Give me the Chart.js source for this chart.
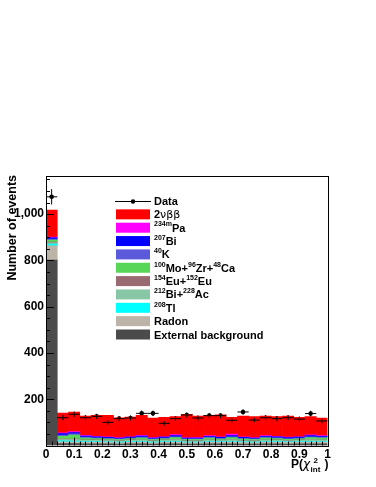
<!DOCTYPE html>
<html>
<head>
<meta charset="utf-8">
<script src="https://cdn.jsdelivr.net/npm/chart.js@4/dist/chart.umd.min.js"></script>
<style>
  html, body { margin: 0; padding: 0; background: #fff; }
  #box { width: 376px; height: 487px; }
</style>
</head>
<body>
<div id="box"><canvas id="c" width="376" height="487"></canvas></div>
<script>
// bin centres of P(chi2_int), 25 bins of width 0.04
const binCenters = [0.02, 0.06, 0.10, 0.14, 0.18, 0.22, 0.26, 0.30, 0.34, 0.38, 0.42, 0.46, 0.50,
  0.54, 0.58, 0.62, 0.66, 0.70, 0.74, 0.78, 0.82, 0.86, 0.90, 0.94, 0.98];
const binWidth = 0.04;

// data points and their errors
const dataCounts = [1075, 120, 135, 120, 126, 100, 116, 119, 139, 139, 96, 116, 132,
  119, 129, 129, 109, 145, 110, 120, 116, 120, 114, 138, 106];
const dataErrors = [33, 11, 12, 11, 11, 10, 11, 11, 12, 12, 10, 11, 11,
  11, 11, 11, 10, 12, 10, 11, 11, 11, 11, 12, 10];

// stacked MC components (bottom to top)
const externalBg = [802, 8, 8, 7, 7, 7, 6, 7, 7, 6, 7, 7, 6, 6, 7, 7, 7, 6, 6, 7, 7, 6, 7, 7, 7];
const radon      = [61, 8, 7, 7, 7, 6, 6, 7, 8, 6, 7, 8, 6, 6, 8, 7, 8, 7, 6, 8, 7, 7, 7, 8, 8];
const tl208      = [8, 4, 4, 3, 3, 3, 3, 3, 3, 3, 3, 3, 3, 3, 3, 3, 3, 3, 3, 3, 3, 3, 3, 3, 3];
const biAc       = [5, 6, 7, 5, 5, 5, 4, 5, 5, 4, 5, 6, 4, 4, 5, 4, 6, 4, 4, 5, 5, 4, 5, 6, 5];
const eu         = [3, 2, 2, 2, 2, 2, 2, 2, 2, 2, 2, 2, 2, 2, 2, 2, 2, 2, 2, 2, 2, 2, 2, 2, 2];
const moZrCa     = [9, 12, 17, 8, 6, 5, 5, 5, 7, 5, 5, 8, 5, 5, 7, 5, 8, 6, 5, 7, 6, 5, 5, 8, 7];
const k40        = [4, 5, 5, 4, 3, 3, 3, 3, 4, 3, 3, 4, 3, 3, 4, 3, 4, 3, 3, 4, 3, 3, 3, 4, 4];
const bi207      = [6, 6, 6, 5, 4, 4, 3, 4, 5, 3, 4, 5, 3, 3, 4, 4, 5, 4, 3, 4, 4, 4, 4, 5, 4];
const pa234m     = [3, 4, 4, 3, 3, 2, 2, 2, 3, 2, 2, 4, 2, 2, 3, 2, 6, 2, 2, 3, 3, 2, 2, 3, 3];
const twoNuBB    = [117, 85, 85, 83, 90, 93, 86, 85, 86, 84, 84, 78, 101,
  93, 87, 96, 73, 90, 91, 84, 85, 91, 84, 79, 76];

// axis ticks
const xTicks = [0, 0.1, 0.2, 0.3, 0.4, 0.5, 0.6, 0.7, 0.8, 0.9, 1];
const yTicks = [200, 400, 600, 800, 1000];
const yMax = 1165;

// legend labels: ^{..} = superscript, ~{..} = thin symbol font
const components = [
  { label: 'External background', color: '#4b4b4b', values: externalBg },
  { label: 'Radon', color: '#bdb4a9', values: radon },
  { label: '^{208}Tl', color: '#00ffff', values: tl208 },
  { label: '^{212}Bi+^{228}Ac', color: '#88c7a6', values: biAc },
  { label: '^{154}Eu+^{152}Eu', color: '#996a72', values: eu },
  { label: '^{100}Mo+^{96}Zr+^{48}Ca', color: '#57d657', values: moZrCa },
  { label: '^{40}K', color: '#5a5adb', values: k40 },
  { label: '^{207}Bi', color: '#0000ff', values: bi207 },
  { label: '^{234m}Pa', color: '#ff00ff', values: pa234m },
  { label: '2~{νββ}', color: '#ff0000', values: twoNuBB }
];

const FONT = '"Liberation Sans", Arial, Helvetica, sans-serif';

/**
 * Draws a label with simple superscripts, returns the end x.
 */
function drawRich(ctx, text, x, y, size) {
  let parts = text.split(/(\^\{[^}]*\}|~\{[^}]*\})/).filter(p => p.length);
  parts.forEach(p => {
    let t = p, dy = 0, font = `bold ${size}px ${FONT}`;
    if (p.startsWith('^{')) {
      t = p.slice(2, -1); dy = -size * 0.38; font = `bold ${Math.round(size * 0.64)}px ${FONT}`;
    } else if (p.startsWith('~{')) {
      t = p.slice(2, -1); font = `${size}px "DejaVu Sans", ${FONT}`;
    }
    ctx.font = font;
    ctx.fillText(t, x, y + dy);
    x += ctx.measureText(t).width;
  });
  return x;
}

const errorBars = {
  id: 'errorBars',
  afterDatasetsDraw(chart) {
    let { ctx, scales: { x, y } } = chart;
    let idx = chart.data.datasets.length - 1;
    ctx.save();
    ctx.strokeStyle = '#000';
    ctx.lineWidth = 1;
    chart.getDatasetMeta(idx).data.forEach((pt, i) => {
      ctx.beginPath();
      ctx.moveTo(x.getPixelForValue(binCenters[i] - binWidth / 2), pt.y);
      ctx.lineTo(x.getPixelForValue(binCenters[i] + binWidth / 2), pt.y);
      ctx.moveTo(pt.x, y.getPixelForValue(dataCounts[i] - dataErrors[i]));
      ctx.lineTo(pt.x, y.getPixelForValue(dataCounts[i] + dataErrors[i]));
      ctx.stroke();
    });
    ctx.restore();
  }
};

const rootFrame = {
  id: 'rootFrame',
  afterDraw(chart) {
    let { ctx, chartArea: a, scales: { x, y } } = chart;
    ctx.save();
    ctx.strokeStyle = '#000';
    ctx.lineWidth = 1;
    ctx.beginPath();
    // inward ticks on the y axis
    for (let v = 50; v < yMax; v += 50) {
      let py = Math.round(y.getPixelForValue(v)) + 0.5;
      ctx.moveTo(a.left, py);
      ctx.lineTo(a.left + (v % 200 === 0 ? 8 : 4), py);
    }
    // inward ticks on the x axis
    for (let k = 1; k < 50; k++) {
      let px = Math.round(x.getPixelForValue(k / 50)) + 0.5;
      ctx.moveTo(px, a.bottom);
      ctx.lineTo(px, a.bottom - (k % 5 === 0 ? 8 : 4));
    }
    ctx.stroke();
    ctx.strokeRect(Math.round(a.left) + 0.5, Math.round(a.top) + 0.5,
      Math.round(a.right - a.left), Math.round(a.bottom - a.top));

    // axis titles
    ctx.fillStyle = '#000';
    ctx.save();
    ctx.translate(16, a.top - 1);
    ctx.rotate(-Math.PI / 2);
    ctx.textAlign = 'right';
    ctx.textBaseline = 'alphabetic';
    ctx.font = `bold 12.5px ${FONT}`;
    ctx.fillText('Number of events', 0, 0);
    ctx.restore();

    ctx.textBaseline = 'alphabetic';
    ctx.textAlign = 'left';
    let bx = 291, by = 468;
    ctx.font = `bold 12px ${FONT}`;
    ctx.fillText('P(', bx, by);
    bx += ctx.measureText('P(').width;
    ctx.font = `italic 12px "DejaVu Sans", ${FONT}`;
    ctx.fillText('χ', bx, by);
    bx += ctx.measureText('χ').width + 0.5;
    ctx.font = `bold 8px ${FONT}`;
    ctx.fillText('2', bx + 3, by - 5);
    ctx.fillText('int', bx, by + 4);
    bx += ctx.measureText('int').width + 4;
    ctx.font = `bold 12px ${FONT}`;
    ctx.fillText(')', bx, by);

    // legend
    let lx = 116, ly = 201, pitch = 13.35;
    ctx.textBaseline = 'middle';
    ctx.beginPath();
    ctx.moveTo(lx - 1, ly + 0.5);
    ctx.lineTo(lx + 35, ly + 0.5);
    ctx.stroke();
    ctx.beginPath();
    ctx.arc(lx + 17, ly + 0.5, 2.2, 0, Math.PI * 2);
    ctx.fill();
    drawRich(ctx, 'Data', lx + 38, ly + 1, 11);
    components.slice().reverse().forEach((c, i) => {
      let ry = ly + pitch * (i + 1);
      ctx.fillStyle = c.color;
      ctx.fillRect(lx, ry - 5, 34, 10);
      ctx.fillStyle = '#000';
      drawRich(ctx, c.label, lx + 38, ry + 1, 11);
    });
    ctx.restore();
  }
};

let datasets = components.map(c => ({
  type: 'bar',
  label: c.label,
  data: binCenters.map((b, i) => ({ x: b, y: c.values[i] })),
  backgroundColor: c.color,
  borderWidth: 0,
  barPercentage: 1,
  categoryPercentage: 1
}));
datasets.push({
  type: 'scatter',
  label: 'Data',
  stack: 'data',
  data: binCenters.map((b, i) => ({ x: b, y: dataCounts[i] })),
  pointRadius: 2.3,
  pointBackgroundColor: '#000',
  pointBorderWidth: 0
});

new Chart(document.getElementById('c'), {
  type: 'bar',
  data: { datasets },
  options: {
    responsive: false,
    animation: false,
    layout: { padding: { left: 0, right: 48.5, top: 176, bottom: 0 } },
    plugins: { legend: { display: false }, tooltip: { enabled: false } },
    scales: {
      x: {
        type: 'linear', min: 0, max: 1, stacked: true, offset: false,
        grid: { display: false, drawTicks: false }, border: { display: false },
        afterFit: s => { s.height = 41.5; },
        afterBuildTicks: s => { s.ticks = xTicks.map(v => ({ value: v })); },
        ticks: {
          color: '#000', padding: 2, maxRotation: 0, autoSkip: false,
          font: { family: FONT, size: 12, weight: 'bold' },
          callback: v => String(v)
        }
      },
      y: {
        min: 0, max: yMax, stacked: true,
        grid: { display: false, drawTicks: false }, border: { display: false },
        afterFit: s => { s.width = 46; },
        afterBuildTicks: s => { s.ticks = yTicks.map(v => ({ value: v })); },
        ticks: {
          color: '#000', padding: 2,
          font: { family: FONT, size: 12, weight: 'bold' }
        }
      }
    }
  },
  plugins: [errorBars, rootFrame]
});
</script>
</body>
</html>
